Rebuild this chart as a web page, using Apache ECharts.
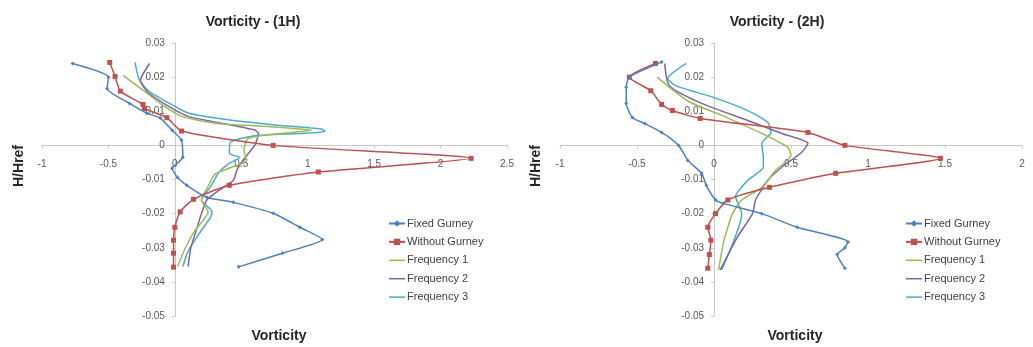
<!DOCTYPE html>
<html><head><meta charset="utf-8">
<script src="https://cdn.jsdelivr.net/npm/echarts@6/dist/echarts.min.js"></script>
<style>html,body{margin:0;padding:0;background:#fff}#c{width:1033px;height:347px}</style>
</head><body><div id="c"></div>
<script>
// ---- data: [vorticity, H/Href] ----
const seriesNames = ["Fixed Gurney","Without Gurney","Frequency 1","Frequency 2","Frequency 3"];
const xTicks1 = [-1, 2.5];
const xTicks2 = [-1, 2];
const yRange = [-0.05, 0.03];

const fixedGurney1H = [[-0.77,0.024],[-0.5,0.0200],[-0.51,0.0167],[-0.34,0.0123],[-0.21,0.0094],[-0.11,0.008],[-0.02,0.0044],[0.05,0.0015],[0.06,-0.0035],[-0.02,-0.0067],[0.02,-0.0094],[0.09,-0.0117],[0.24,-0.0152],[0.44,-0.0167],[0.74,-0.0199],[0.94,-0.024],[1.11,-0.0276],[0.81,-0.0316],[0.48,-0.0356]];
const withoutGurney1H = [[-0.49,0.0243],[-0.45,0.0202],[-0.41,0.0159],[-0.24,0.012],[-0.23,0.0108],[-0.06,0.0081],[0.05,0.0042],[0.74,0.0],[2.23,-0.0038],[1.08,-0.0078],[0.41,-0.0117],[0.14,-0.0158],[0.04,-0.0195],[0.0,-0.024],[-0.01,-0.0278],[-0.01,-0.0316],[-0.01,-0.0357]];
const frequency1_1H = [[-0.39,0.0205],[-0.25,0.0165],[-0.1,0.012],[0.05,0.0085],[0.3,0.0065],[0.7,0.0055],[1.03,0.0044],[0.8,0.0035],[0.55,0.002],[0.52,-0.0015],[0.54,-0.0044],[0.42,-0.0065],[0.3,-0.0085],[0.25,-0.012],[0.2,-0.016],[0.25,-0.0195],[0.15,-0.025],[0.08,-0.03],[0.02,-0.0355]];
const frequency2_1H = [[-0.19,0.024],[-0.26,0.019],[-0.2,0.0155],[-0.05,0.0115],[0.1,0.0085],[0.35,0.0065],[0.6,0.0045],[0.63,0.0035],[0.6,0.0],[0.52,-0.004],[0.47,-0.007],[0.44,-0.0102],[0.32,-0.0135],[0.24,-0.016],[0.2,-0.02],[0.16,-0.025],[0.12,-0.03],[0.1,-0.0355]];
const frequency3_1H = [[-0.3,0.0243],[-0.27,0.0195],[-0.2,0.016],[-0.05,0.0125],[0.1,0.0095],[0.4,0.0075],[0.75,0.006],[1.1,0.0048],[1.13,0.0041],[0.95,0.0035],[0.6,0.0028],[0.42,0.001],[0.41,-0.0024],[0.49,-0.0035],[0.4,-0.0055],[0.33,-0.008],[0.27,-0.012],[0.2,-0.016],[0.28,-0.0195],[0.27,-0.021],[0.18,-0.026],[0.1,-0.031],[0.06,-0.0355]];

const fixedGurney2H = [[-0.34,0.0244],[-0.55,0.02],[-0.57,0.017],[-0.57,0.0123],[-0.53,0.0082],[-0.45,0.0064],[-0.34,0.0038],[-0.23,0.0],[-0.17,-0.0044],[-0.08,-0.0082],[-0.05,-0.0117],[0.01,-0.016],[0.06,-0.017],[0.31,-0.02],[0.54,-0.024],[0.87,-0.0283],[0.85,-0.030],[0.8,-0.032],[0.85,-0.036]];
const withoutGurney2H = [[-0.38,0.024],[-0.55,0.02],[-0.41,0.016],[-0.34,0.012],[-0.27,0.0102],[-0.09,0.0079],[0.61,0.0038],[0.85,0.0],[1.47,-0.0038],[0.79,-0.0082],[0.36,-0.0123],[0.09,-0.016],[0.01,-0.02],[-0.04,-0.024],[-0.02,-0.0278],[-0.03,-0.032],[-0.04,-0.036]];
const frequency1_2H = [[-0.37,0.02],[-0.17,0.013],[0.05,0.0088],[0.31,0.0035],[0.48,-0.0006],[0.5,-0.003],[0.4,-0.0073],[0.31,-0.0123],[0.18,-0.016],[0.12,-0.02],[0.09,-0.024],[0.06,-0.0287],[0.03,-0.0365]];
const frequency2_2H = [[-0.32,0.024],[-0.29,0.0175],[-0.08,0.0123],[0.22,0.0073],[0.44,0.0035],[0.61,0.0006],[0.57,-0.002],[0.44,-0.0064],[0.35,-0.0102],[0.27,-0.016],[0.25,-0.02],[0.15,-0.027],[0.04,-0.0365]];
const frequency3_2H = [[-0.18,0.024],[-0.3,0.0196],[-0.25,0.0175],[0.0,0.014],[0.22,0.0102],[0.35,0.0067],[0.37,0.0038],[0.31,0.0006],[0.32,-0.0035],[0.32,-0.0064],[0.22,-0.0102],[0.14,-0.015],[0.18,-0.02],[0.05,-0.0365]];

const titles = ["Vorticity - (1H)", "Vorticity - (2H)"];
const xName = "Vorticity";
const yName = "H/Href";

// ---- styling ----
const colors = ["#4F81BD","#C0504D","#9BBB59","#8064A2","#4BACC6"];
const symbols = ["diamond","rect","none","none","none"];
const symSizes = [4,5,0,0,0];
const FONT = "Liberation Sans";

const data1 = [fixedGurney1H, withoutGurney1H, frequency1_1H, frequency2_1H, frequency3_1H];
const data2 = [fixedGurney2H, withoutGurney2H, frequency1_2H, frequency2_2H, frequency3_2H];

const grids = [
  {left:42, top:43, width:465, height:273},
  {left:560, top:43, width:462, height:273}
];

function xAxis(grid, range){
  const g = grids[grid];
  // place axis line at y = 0 (Excel style crossing)
  const zeroOffset = -g.height * (0 - yRange[0]) / (yRange[1] - yRange[0]);
  return {type:'value', gridIndex:grid, min:range[0], max:range[1], interval:0.5,
    position:'bottom', offset:zeroOffset,
    axisLine:{onZero:false, lineStyle:{color:'#c8c8c8', width:1}},
    axisTick:{show:true, length:3, lineStyle:{color:'#c8c8c8'}},
    splitLine:{show:false},
    axisLabel:{fontFamily:FONT, fontSize:10, color:'#595959', margin:14}};
}
function yAxis(grid, range){
  const g = grids[grid];
  const zeroOffset = -g.width * (0 - range[0]) / (range[1] - range[0]);
  return {type:'value', gridIndex:grid, min:yRange[0], max:yRange[1], interval:0.01,
    position:'left', offset:zeroOffset,
    axisLine:{show:true, onZero:false, lineStyle:{color:'#c8c8c8', width:1}},
    axisTick:{show:true, length:3, lineStyle:{color:'#c8c8c8'}},
    splitLine:{show:false},
    axisLabel:{fontFamily:FONT, fontSize:10, color:'#595959', margin:10,
      formatter:v=>String(Math.round(v*100)/100)}};
}
function mkSeries(arr, idx){
  return arr.map((d,i)=>({
    type:'line', name:seriesNames[i], xAxisIndex:idx, yAxisIndex:idx, data:d,
    smooth:0.2, symbol:symbols[i], symbolSize:symSizes[i], showSymbol:symbols[i]!=='none',
    lineStyle:{color:colors[i], width:1.5}, itemStyle:{color:colors[i]},
    z: 10 - i, animation:false
  }));
}
function legend(left){
  return {orient:'vertical', left:left, top:218, padding:0, itemWidth:16, itemHeight:8, itemGap:7.4,
    data:seriesNames.map((n,i)=>({name:n, icon: symbols[i]==='none' ? 'path://M0,0h16v1.5h-16z' : undefined})),
    textStyle:{fontFamily:FONT, fontSize:11, color:'#404040', padding:[0,0,0,-3]}};
}
const titleStyle = {fontFamily:FONT, fontSize:14, fontWeight:'bold', color:'#262626'};

const chart = echarts.init(document.getElementById('c'), null, {renderer:'canvas'});
chart.setOption({
  animation:false,
  color:colors,
  title:[
    {text:titles[0], left:253, top:15, textAlign:'center', padding:0, textStyle:titleStyle},
    {text:titles[1], left:777, top:15, textAlign:'center', padding:0, textStyle:titleStyle}
  ],
  grid:grids,
  xAxis:[xAxis(0, xTicks1), xAxis(1, xTicks2)],
  yAxis:[yAxis(0, xTicks1), yAxis(1, xTicks2)],
  legend:[legend(388), legend(905)],
  graphic:[
    {type:'text', x:279, y:336, style:{text:xName, font:'bold 14px '+FONT, fill:'#262626', textAlign:'center', textVerticalAlign:'middle'}},
    {type:'text', x:795, y:336, style:{text:xName, font:'bold 14px '+FONT, fill:'#262626', textAlign:'center', textVerticalAlign:'middle'}},
    {type:'text', x:19, y:166, rotation:Math.PI/2, style:{text:yName, font:'bold 14px '+FONT, fill:'#262626', textAlign:'center', textVerticalAlign:'middle'}},
    {type:'text', x:536, y:166, rotation:Math.PI/2, style:{text:yName, font:'bold 14px '+FONT, fill:'#262626', textAlign:'center', textVerticalAlign:'middle'}}
  ],
  series:[...mkSeries(data1,0), ...mkSeries(data2,1)]
});
</script></body></html>
